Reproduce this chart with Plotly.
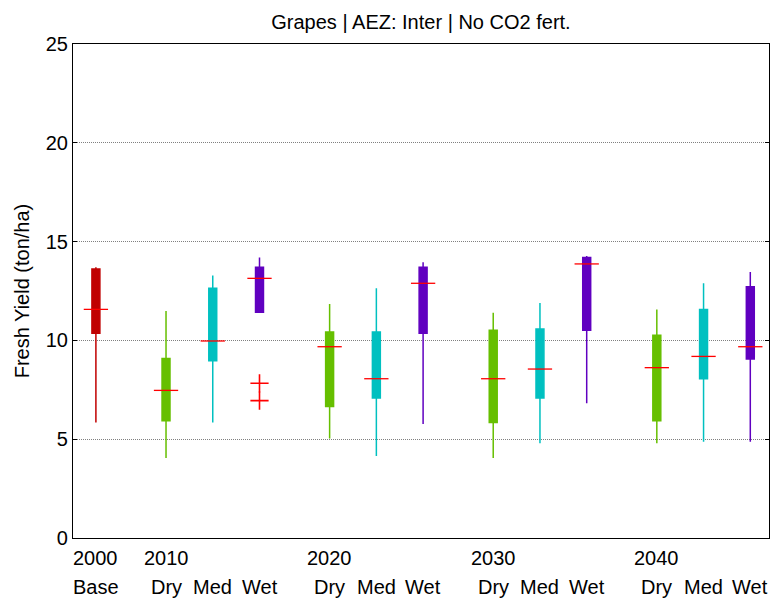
import plotly.graph_objects as go

# Box statistics (ton/ha) for each scenario
labels = ["Base", "Dry", "Med", "Wet", "Dry", "Med", "Wet", "Dry", "Med", "Wet", "Dry", "Med", "Wet"]
positions = [1, 2.5, 3.5, 4.5, 6, 7, 8, 9.5, 10.5, 11.5, 13, 14, 15]
lower_whisker = [5.85, 4.05, 5.85, 11.42, 5.03, 4.15, 5.77, 4.05, 4.79, 6.82, 4.79, 4.87, 4.87]
q1 = [10.36, 5.94, 8.97, 11.42, 6.66, 7.09, 10.36, 5.85, 7.09, 10.51, 5.94, 8.06, 9.06]
median = [11.57, 7.47, 9.97, 13.14, 9.68, 8.06, 12.89, 8.06, 8.55, 13.87, 8.62, 9.19, 9.68]
q3 = [13.61, 9.09, 12.64, 13.70, 10.42, 10.42, 13.70, 10.51, 10.58, 14.20, 10.26, 11.57, 12.72]
upper_whisker = [13.70, 11.49, 13.29, 14.20, 11.84, 12.64, 13.95, 11.40, 11.89, 14.27, 11.57, 12.89, 13.46]

# Outliers (position, value)
outlier_x = [4.5, 4.5]
outlier_y = [7.83, 6.95]

# Year labels shown on the first tick row
year_positions = [1, 2.5, 6, 9.5, 13]
year_labels = ["2000", "2010", "2020", "2030", "2040"]

colors = {"Base": "#C00000", "Dry": "#66BF00", "Med": "#00C0C0", "Wet": "#6000C0"}

fig = go.Figure()

for i, lab in enumerate(labels):
    c = colors[lab]
    fig.add_trace(go.Box(
        x=[positions[i]],
        q1=[q1[i]], median=[q1[i]], q3=[q3[i]],
        lowerfence=[lower_whisker[i]], upperfence=[upper_whisker[i]],
        width=0.17, whiskerwidth=0,
        fillcolor=c, line=dict(color=c, width=1.5),
        boxpoints=False, showlegend=False, hoverinfo="skip",
    ))
    # median bar
    fig.add_trace(go.Scatter(
        x=[positions[i] - 0.26, positions[i] + 0.26], y=[median[i], median[i]],
        mode="lines", line=dict(color="#FF0000", width=1.3),
        showlegend=False, hoverinfo="skip",
    ))

fig.add_trace(go.Scatter(
    x=outlier_x, y=outlier_y, mode="markers",
    marker=dict(symbol="cross-thin-open", size=13, color="#FF0000",
                line=dict(color="#FF0000", width=1.6)),
    showlegend=False, hoverinfo="skip",
))

font_family = "Liberation Sans, Arial, sans-serif"
fs = 20

for xp, yl in zip(year_positions, year_labels):
    fig.add_annotation(x=xp, y=0, xref="x", yref="paper", yanchor="middle", yshift=-20,
                       text=yl, showarrow=False, font=dict(size=fs, color="black", family=font_family))
for xp, lab in zip(positions, labels):
    fig.add_annotation(x=xp, y=0, xref="x", yref="paper", yanchor="middle", yshift=-49,
                       text=lab, showarrow=False, font=dict(size=fs, color="black", family=font_family))

fig.update_layout(
    width=771, height=602,
    margin=dict(l=73, r=2, t=44, b=64),
    paper_bgcolor="white", plot_bgcolor="white",
    font=dict(family=font_family, size=fs, color="black"),
    title=dict(text="Grapes | AEZ: Inter | No CO2 fert.", x=0.546, xanchor="center",
               y=1 - 22 / 602, yanchor="middle", font=dict(size=fs)),
)
fig.update_xaxes(range=[0.51, 15.4], showticklabels=False, showgrid=False, zeroline=False,
                 showline=True, linecolor="black", linewidth=1.2, mirror=True,
                 ticks="", fixedrange=True)
fig.update_yaxes(range=[0, 25], tickvals=[0, 5, 10, 15, 20, 25], showgrid=True,
                 gridcolor="#808080", griddash="1px,1px", gridwidth=1, zeroline=False,
                 showline=True, linecolor="black", linewidth=1.2, mirror="ticks",
                 ticks="inside", ticklen=4, tickcolor="black",
                 title=dict(text="Fresh Yield (ton/ha)", standoff=10, font=dict(size=fs)))

fig.write_html("out.html")
